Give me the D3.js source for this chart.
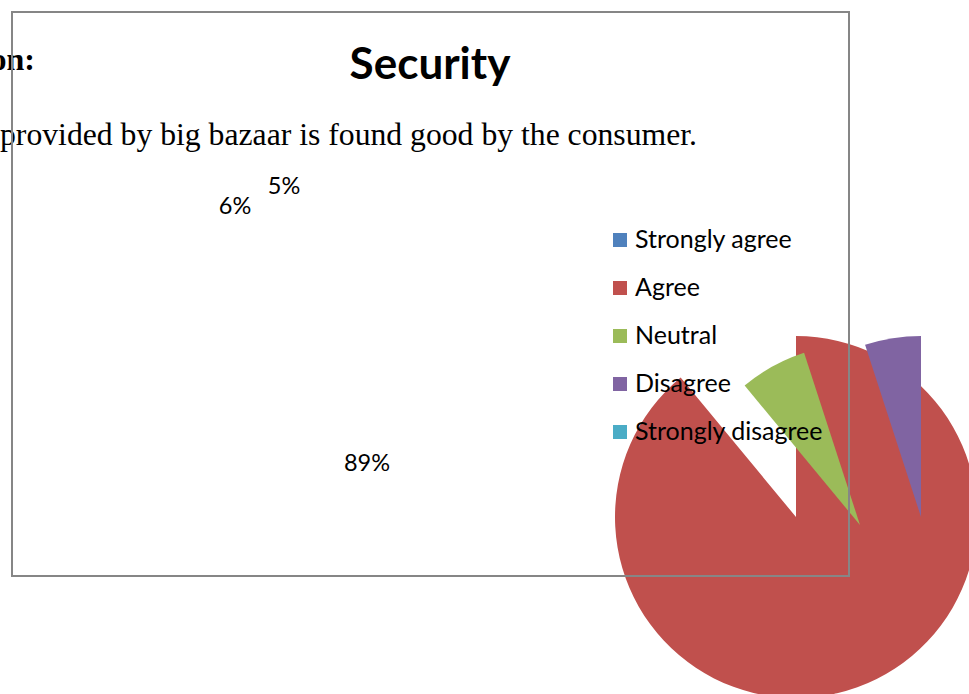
<!DOCTYPE html>
<html>
<head>
<meta charset="utf-8">
<script src="https://cdn.jsdelivr.net/npm/d3@7"></script>
<style>
  html, body { margin: 0; padding: 0; background: #fff; }
  svg { display: block; }
</style>
</head>
<body>
<svg id="chart" width="969" height="694"></svg>
<script>
// Survey responses on security at the store (percent of respondents)
const categories = ["Strongly agree", "Agree", "Neutral", "Disagree", "Strongly disagree"];
const values = [0, 89, 6, 5, 0];
const sliceColors = ["#4F81BD", "#C0504D", "#9BBB59", "#8064A2", "#4BACC6"];
const chartTitle = "Security";
const bodyLines = ["on:", "provided by big bazaar is found good by the consumer."];

const svg = d3.select("#chart");

// Surrounding document text
svg.append("text")
  .attr("x", 35).attr("y", 70)
  .attr("text-anchor", "end")
  .attr("font-family", "'Liberation Serif', 'Times New Roman', serif")
  .attr("font-weight", "bold")
  .attr("font-size", 32)
  .attr("fill", "#000")
  .text(bodyLines[0]);

svg.append("text")
  .attr("x", 697).attr("y", 145)
  .attr("text-anchor", "end")
  .attr("font-family", "'Liberation Serif', 'Times New Roman', serif")
  .attr("font-size", 31.7)
  .attr("fill", "#000")
  .text(bodyLines[1]);

// Pie slices; each slice keeps its own centre
const pie = d3.pie().sort(null).value(d => d.value).startAngle(0).endAngle(2 * Math.PI);
const data = categories.map((c, i) => ({ name: c, value: values[i], color: sliceColors[i] }));
const arcs = pie(data);
const radius = 181;
const arc = d3.arc().innerRadius(0).outerRadius(radius);
const sliceCentres = {
  "Agree": [796, 517],
  "Neutral": [860, 525],
  "Disagree": [921, 517]
};

svg.append("g").selectAll("path")
  .data(arcs.filter(a => a.value > 0))
  .join("path")
  .attr("transform", a => `translate(${sliceCentres[a.data.name]})`)
  .attr("d", arc)
  .attr("fill", a => a.data.color);

// Chart frame
svg.append("rect")
  .attr("x", 12).attr("y", 12)
  .attr("width", 837).attr("height", 564)
  .attr("fill", "none")
  .attr("stroke", "#868686")
  .attr("stroke-width", 2);

const uiFont = "Lato, 'Open Sans', sans-serif";

// Title
svg.append("text")
  .attr("x", 430).attr("y", 79)
  .attr("text-anchor", "middle")
  .attr("font-family", uiFont)
  .attr("font-weight", "bold")
  .attr("font-size", 44)
  .attr("fill", "#000")
  .text(chartTitle);

// Data labels
const labelPos = {
  "Agree": [367, 471],
  "Neutral": [235, 214],
  "Disagree": [284, 194]
};
svg.append("g").selectAll("text")
  .data(arcs.filter(a => a.value > 0))
  .join("text")
  .attr("x", a => labelPos[a.data.name][0])
  .attr("y", a => labelPos[a.data.name][1])
  .attr("text-anchor", "middle")
  .attr("font-family", uiFont)
  .attr("font-size", 23.5)
  .attr("fill", "#000")
  .text(a => d3.format(".0%")(a.value / d3.sum(values)));

// Legend
const legend = svg.append("g").attr("transform", "translate(613, 240)");
const rowStep = 48;
const rows = legend.selectAll("g")
  .data(data)
  .join("g")
  .attr("transform", (d, i) => `translate(0, ${i * rowStep})`);
rows.append("rect")
  .attr("x", 0).attr("y", -7)
  .attr("width", 14).attr("height", 14)
  .attr("fill", d => d.color);
rows.append("text")
  .attr("x", 22).attr("y", 8)
  .attr("font-family", uiFont)
  .attr("font-size", 25)
  .attr("fill", "#000")
  .text(d => d.name);
</script>
</body>
</html>
